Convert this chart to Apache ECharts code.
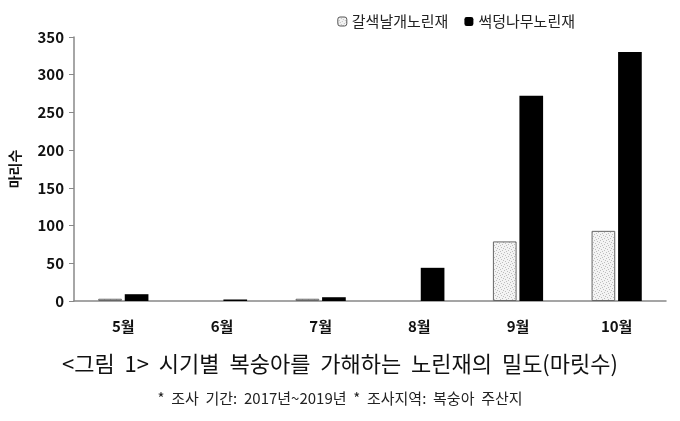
<!DOCTYPE html>
<html><head><meta charset="utf-8">
<script src="https://cdn.jsdelivr.net/npm/echarts@6/dist/echarts.min.js"></script>
<style>html,body{margin:0;padding:0;background:#fff}#c{width:680px;height:421px}</style>
</head><body><div id="c"></div>
<script>
const categories = ['5월','6월','7월','8월','9월','10월'];
const brownWing = [3, null, 3, null, 79, 93];
const brownMarmorated = [9, 2, 5, 44, 272, 330];
const seriesNames = ['갈색날개노린재','썩덩나무노린재'];
const yTicks = [0, 350, 50];
const caption = '<그림  1>  시기별  복숭아를  가해하는  노린재의  밀도(마릿수)';
const note = '*  조사  기간:  2017년~2019년  *  조사지역:  복숭아  주산지';

function dotPattern(){
  const c = document.createElement('canvas');
  c.width = 6; c.height = 6;
  const g = c.getContext('2d');
  g.fillStyle = '#f3f3f3'; g.fillRect(0,0,6,6);
  g.fillStyle = '#bdbdbd';
  [[0,0],[3,1],[1,3],[4,4],[2,5],[5,2]].forEach(p => g.fillRect(p[0],p[1],1,1));
  return {image: c, repeat: 'repeat'};
}
const font = "'Noto Sans CJK KR', sans-serif";
const chart = echarts.init(document.getElementById('c'));
chart.setOption({
  animation: false,
  textStyle: {fontFamily: font},
  grid: {left: 68, right: 14, top: 37, bottom: 120},
  legend: {
    right: 100, top: 9, itemWidth: 9, itemHeight: 9, itemGap: 16,
    textStyle: {fontSize: 15, color: '#222', fontFamily: font},
    data: [
      {name: seriesNames[0], itemStyle: {color: dotPattern(), borderColor: '#555', borderWidth: 1}},
      {name: seriesNames[1], itemStyle: {color: '#000'}}
    ]
  },
  xAxis: {
    type: 'category', data: categories,
    axisLine: {lineStyle: {color: '#888', width: 1.5}},
    axisTick: {show: false},
    axisLabel: {fontSize: 15, fontWeight: 'bold', color: '#111', margin: 18, fontFamily: font}
  },
  yAxis: {
    type: 'value', min: yTicks[0], max: yTicks[1], interval: yTicks[2],
    name: '마리수', nameLocation: 'middle', nameGap: 52, nameRotate: 90,
    nameTextStyle: {fontSize: 14, fontWeight: 'bold', color: '#111', fontFamily: font},
    axisLine: {show: true, lineStyle: {color: '#888', width: 1.5}},
    axisTick: {show: true, length: 5, lineStyle: {color: '#888'}},
    splitLine: {show: false},
    axisLabel: {fontSize: 15, fontWeight: 'bold', color: '#111', margin: 10, fontFamily: font}
  },
  series: [
    {name: seriesNames[0], type: 'bar', data: brownWing, barWidth: '24%', barGap: '12%',
     itemStyle: {color: dotPattern(), borderColor: '#666', borderWidth: 1}},
    {name: seriesNames[1], type: 'bar', data: brownMarmorated, barWidth: '24%',
     itemStyle: {color: '#000'}}
  ],
  graphic: [
    {type: 'text', left: 'center', top: 353, style: {text: caption, font: "22px " + font, fill: '#111'}},
    {type: 'text', left: 'center', top: 391, style: {text: note, font: "15px " + font, fill: '#222'}}
  ]
});
</script></body></html>
